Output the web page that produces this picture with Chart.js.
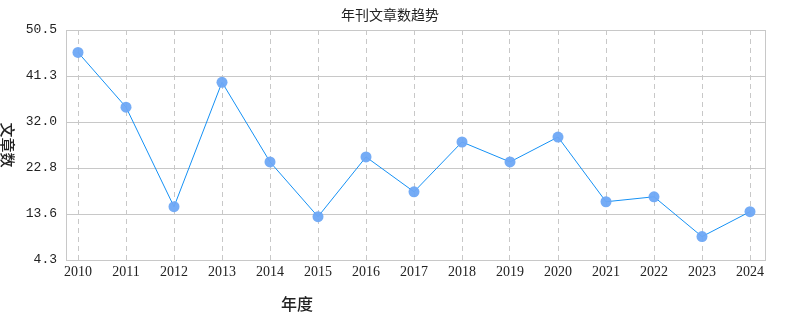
<!DOCTYPE html>
<html>
<head>
<meta charset="utf-8">
<script src="https://cdn.jsdelivr.net/npm/chart.js@4.4.1/dist/chart.umd.min.js"></script>
<style>
html,body{margin:0;padding:0;background:#fff;}
#wrap{width:790px;height:330px;position:relative;}
</style>
</head>
<body>
<div id="wrap"><canvas id="c" width="790" height="330"></canvas></div>
<script>
const years = [2010,2011,2012,2013,2014,2015,2016,2017,2018,2019,2020,2021,2022,2023,2024];
const articleCounts = [46,35,15,40,24,13,25,18,28,24,29,16,17,9,14];
const yTickValues = [4.3,13.54,22.78,32.02,41.26,50.5];
const yTickLabels = ['4.3','13.6','22.8','32.0','41.3','50.5'];
const chartTitle = '年刊文章数趋势';
const xTitle = '年度';
const yTitle = '文章数';

const textPlugin = {
  id: 'textPlugin',
  afterDraw(chart) {
    const ctx = chart.ctx;
    const area = chart.chartArea;
    ctx.save();
    ctx.fillStyle = '#222';
    ctx.textAlign = 'center';
    ctx.textBaseline = 'middle';
    ctx.font = '14px "Noto Sans CJK SC"';
    ctx.fillText(chartTitle, 390, 15);
    ctx.font = '500 16px "Noto Sans CJK SC"';
    ctx.fillText(xTitle, 297, 304);
    ctx.translate(8, (area.top + area.bottom) / 2);
    ctx.rotate(Math.PI / 2);
    ctx.font = '500 15px "Noto Sans CJK SC"';
    ctx.fillText(yTitle, 0, 0);
    ctx.restore();
  }
};

const points = years.map((y, i) => ({x: y, y: articleCounts[i]}));

new Chart(document.getElementById('c'), {
  type: 'line',
  data: {
    datasets: [{
      data: points,
      borderColor: '#1591f5',
      borderWidth: 1,
      pointRadius: 5.5,
      pointHoverRadius: 5.5,
      pointBackgroundColor: 'rgba(110,168,245,0.95)',
      pointBorderWidth: 0,
      tension: 0
    }]
  },
  options: {
    responsive: false,
    animation: false,
    devicePixelRatio: 1,
    layout: {padding: {left: 0, right: 25, top: 30, bottom: 0}},
    plugins: {legend: {display: false}, tooltip: {enabled: false}, title: {display: false}},
    scales: {
      x: {
        type: 'linear',
        min: 2009.75,
        max: 2024.3125,
        afterBuildTicks(scale) { scale.ticks = years.map(v => ({value: v})); },
        afterFit(scale) { scale.height = 70; },
        ticks: {
          autoSkip: false,
          maxRotation: 0,
          padding: 4,
          color: '#222',
          font: {family: '"Liberation Serif"', size: 14},
          callback: (v) => String(v)
        },
        grid: {
          color: '#c8c8c8',
          drawTicks: false,
          tickBorderDash: [5,4]
        },
        border: {display: true, color: '#c8c8c8', width: 1, dash: [5,4]}
      },
      y: {
        min: 4.3,
        max: 50.5,
        afterBuildTicks(scale) { scale.ticks = yTickValues.map(v => ({value: v})); },
        afterFit(scale) { scale.width = 66; },
        ticks: {
          padding: 9,
          color: '#222',
          font: {family: '"Liberation Mono"', size: 13},
          callback: (v, i) => yTickLabels[i]
        },
        grid: {color: '#c8c8c8', drawTicks: false, lineWidth: 1},
        border: {display: true, color: '#c8c8c8', width: 1}
      }
    }
  },
  plugins: [textPlugin, {
    id: 'frame',
    beforeDatasetsDraw(chart) {
      const {ctx, chartArea: a} = chart;
      ctx.save();
      ctx.strokeStyle = '#c8c8c8';
      ctx.lineWidth = 1;
      ctx.beginPath();
      ctx.moveTo(Math.round(a.right) + 0.5, a.top);
      ctx.lineTo(Math.round(a.right) + 0.5, a.bottom);
      ctx.moveTo(a.left, Math.round(a.bottom) + 0.5);
      ctx.lineTo(a.right, Math.round(a.bottom) + 0.5);
      ctx.stroke();
      ctx.restore();
    }
  }]
});
</script>
</body>
</html>
